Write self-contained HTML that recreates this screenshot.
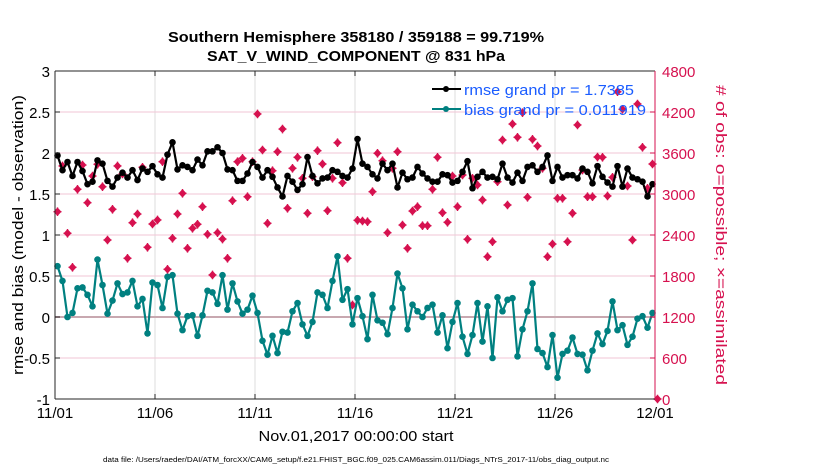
<!DOCTYPE html>
<html><head><meta charset="utf-8"><style>
html,body{margin:0;padding:0;background:#fff;}
svg{display:block;font-family:"Liberation Sans",sans-serif;}
</style></head><body>
<svg id="chart" width="830" height="470" viewBox="0 0 830 470">
<text x="356" y="42" text-anchor="middle" font-size="15" font-weight="bold" textLength="376" lengthAdjust="spacingAndGlyphs">Southern Hemisphere 358180 / 359188 = 99.719%</text>
<text x="356" y="61" text-anchor="middle" font-size="15" font-weight="bold" textLength="298" lengthAdjust="spacingAndGlyphs">SAT_V_WIND_COMPONENT @ 831 hPa</text>
<g id="grid"></g>
<g id="obs"></g>
<g id="rmse"></g>
<g id="bias"></g>
<g id="axes"></g>
<text transform="translate(23,235) rotate(-90)" text-anchor="middle" font-size="15" textLength="280" lengthAdjust="spacingAndGlyphs">rmse and bias (model - observation)</text>
<text transform="translate(716,235) rotate(90)" text-anchor="middle" font-size="15" fill="#d6114f" textLength="300" lengthAdjust="spacingAndGlyphs"># of obs: o=possible; ×=assimilated</text>
<text x="356" y="441" text-anchor="middle" font-size="15" textLength="195" lengthAdjust="spacingAndGlyphs">Nov.01,2017 00:00:00 start</text>
<text x="356" y="462" text-anchor="middle" font-size="7" textLength="506" lengthAdjust="spacingAndGlyphs">data file: /Users/raeder/DAI/ATM_forcXX/CAM6_setup/f.e21.FHIST_BGC.f09_025.CAM6assim.011/Diags_NTrS_2017-11/obs_diag_output.nc</text>
<g>
<line x1="432" y1="89" x2="461" y2="89" stroke="#000" stroke-width="2"/>
<circle cx="446" cy="89" r="3" fill="#000"/>
<text x="464" y="95" font-size="15" fill="#1a5cff" textLength="170" lengthAdjust="spacingAndGlyphs">rmse grand pr = 1.7385</text>
<line x1="432" y1="109" x2="461" y2="109" stroke="#008080" stroke-width="2"/>
<circle cx="446" cy="109" r="3" fill="#008080"/>
<text x="464" y="115" font-size="15" fill="#1a5cff" textLength="182" lengthAdjust="spacingAndGlyphs">bias grand pr = 0.011919</text>
</g>
</svg>
<script>
const rmseValues=[1.97,1.79,1.89,1.72,1.89,1.78,1.62,1.65,1.91,1.87,1.66,1.59,1.70,1.76,1.70,1.79,1.67,1.81,1.77,1.84,1.74,1.70,1.98,2.13,1.80,1.85,1.83,1.79,1.92,1.85,2.02,2.02,2.07,2.00,1.80,1.79,1.66,1.66,1.75,1.89,1.83,1.70,1.79,1.71,1.58,1.47,1.72,1.65,1.55,1.62,1.95,1.72,1.63,1.69,1.70,1.79,1.77,1.72,1.70,1.81,2.17,
1.87,1.83,1.74,1.69,1.87,1.79,1.87,1.58,1.76,1.68,1.70,1.83,1.75,1.69,1.65,1.65,1.74,1.73,1.64,1.66,1.77,1.90,1.57,1.71,1.77,1.70,1.71,1.68,1.87,1.70,1.64,1.76,1.66,1.83,1.85,1.77,1.83,1.97,1.66,1.83,1.70,1.73,1.73,1.69,1.81,1.77,1.63,1.84,1.71,1.64,1.59,1.84,1.59,1.81,1.70,1.68,1.65,1.47,1.62];
const biasValues=[0.62,0.44,0.00,0.05,0.35,0.36,0.27,0.13,0.70,0.39,0.04,0.20,0.41,0.28,0.30,0.44,0.13,0.22,-0.20,0.42,0.39,0.11,0.49,0.51,0.04,-0.16,0.01,0.02,-0.23,0.02,0.32,0.30,0.16,0.51,0.09,0.41,0.19,0.04,0.09,0.26,0.05,-0.29,-0.46,-0.23,-0.44,-0.18,-0.19,0.07,0.17,-0.09,-0.23,-0.06,0.30,0.27,0.11,0.44,0.74,0.21,0.34,-0.09,0.23,
0.01,-0.27,0.27,-0.04,-0.07,-0.21,0.11,0.53,0.35,-0.15,0.15,0.07,0.00,0.11,0.15,-0.19,0.02,-0.38,-0.06,0.17,-0.24,-0.45,-0.22,0.17,-0.30,0.13,-0.50,0.24,0.07,0.21,0.23,-0.48,-0.15,0.07,0.41,-0.39,-0.44,-0.61,-0.22,-0.74,-0.45,-0.41,-0.25,-0.45,-0.46,-0.65,-0.41,-0.20,-0.33,-0.17,0.19,-0.16,-0.10,-0.34,-0.24,-0.02,0.01,-0.13,0.05];
const obsCounts=[2741,3410,2425,1927,3069,3424,2873,3263,3435,3107,2327,2776,3410,3293,2059,2580,2707,3391,2220,2561,2620,3473,1898,2352,2707,3010,2205,2498,2557,2814,2410,1815,2434,2341,2059,2902,3473,3522,2960,3473,4171,3644,2571,3341,3619,3951,2791,3376,3537,3230,2718,3253,3634,3439,2756,3230,3751,3165,2059,1376,2615,2605,2595,3034,3596,3487,2434,3376,3619,2546,2205,2751,2814,2536,2536,3069,3537,2726,2586,3263,2814,3278,2337,3230,3132,2912,2082,2302,3180,3790,2839,4024,3830,4190,2952,3800,3702,3376,2082,2268,2937,2937,2302,2718,4010,3351,2960,2960,3541,3537,2971,3244,4497,4240,3117,2327,4317,3683,3083,3439,0];
const leftTicks=[-1,-0.5,0,0.5,1,1.5,2,2.5,3];
const leftTickLabels=["-1","-0.5","0","0.5","1","1.5","2","2.5","3"];
const rightTicks=[0,600,1200,1800,2400,3000,3600,4200,4800];
const xTickDays=[0,5,10,15,20,25,30];
const xTickLabels=["11/01","11/06","11/11","11/16","11/21","11/26","12/01"];

const X0=55,X1=655,Y0=71,Y1=399;
const xDay=d=>X0+(X1-X0)*d/30;
const xIdx=i=>xDay((i+0.5)/4);
const yL=v=>Y1-(v+1)/4*(Y1-Y0);
const yR=v=>Y1-v/4800*(Y1-Y0);
const NS="http://www.w3.org/2000/svg";
function mk(tag,attrs,parent){const e=document.createElementNS(NS,tag);for(const k in attrs)e.setAttribute(k,attrs[k]);parent.appendChild(e);return e;}
const grid=document.getElementById('grid'),axes=document.getElementById('axes');
mk('rect',{x:X0,y:Y0,width:X1-X0,height:Y1-Y0,fill:'#fff'},grid);
xTickDays.forEach((d,i)=>{
 const x=xDay(d);
 if(i>0&&i<xTickDays.length-1){const l=mk('line',{x1:x,y1:Y0,x2:x,y2:Y1,stroke:'#dcdcdc','stroke-width':1},grid);
 
 }
 mk('line',{x1:x,y1:Y1,x2:x,y2:Y1-5,stroke:'#262626'},axes);
 mk('line',{x1:x,y1:Y0,x2:x,y2:Y0+5,stroke:'#262626'},axes);
 const t=mk('text',{x:x,y:Y1+19,'text-anchor':'middle','font-size':15},axes);t.textContent=xTickLabels[i];
 
 
});
rightTicks.forEach((v,i)=>{
 const y=yR(v);
 if(i>0&&i<rightTicks.length-1){const l=mk('line',{x1:X0,y1:y,x2:X1,y2:y,stroke:'#f2c6d6',"stroke-width":1},grid);
 
 }
 mk('line',{x1:X1,y1:y,x2:X1-5,y2:y,stroke:'#d6114f'},axes);
 const t=mk('text',{x:X1+7,y:y+6,'font-size':15,fill:'#d6114f'},axes);t.textContent=String(v);
 
 
});
leftTicks.forEach((v,i)=>{
 const y=yL(v);
 mk('line',{x1:X0,y1:y,x2:X0+5,y2:y,stroke:'#262626'},axes);
 const t=mk('text',{x:X0-5,y:y+6,'text-anchor':'end','font-size':15},axes);t.textContent=leftTickLabels[i];
 
 
});
const zl=mk('line',{x1:X0,y1:yL(0),x2:X1,y2:yL(0),stroke:'#c8a8b0','stroke-width':2},grid);


mk('line',{x1:X0,y1:Y0,x2:X1,y2:Y0,stroke:'#262626'},axes);
mk('line',{x1:X0,y1:Y1,x2:X1,y2:Y1,stroke:'#262626'},axes);
mk('line',{x1:X0,y1:Y0,x2:X0,y2:Y1,stroke:'#262626'},axes);
mk('line',{x1:X1,y1:Y0,x2:X1,y2:Y1,stroke:'#d6114f'},axes);

const obsG=document.getElementById('obs');
obsCounts.forEach((v,i)=>{
 const x=xIdx(i),y=yR(v);
 const m=mk('path',{d:`M${x-3},${y}L${x},${y-3.3}L${x+3},${y}L${x},${y+3.3}Z M${x-4},${y}H${x+4} M${x},${y-4.3}V${y+4.3}`,fill:'#d6114f',stroke:'#d6114f','stroke-width':1.4},obsG);
 
 
});
function series(gid,vals,color){
 const g=document.getElementById(gid);
 const pl=mk('polyline',{points:vals.map((v,i)=>xIdx(i)+','+yL(v)).join(' '),fill:'none',stroke:color,'stroke-width':2.2,'stroke-linejoin':'round'},g);
 
 
 vals.forEach((v,i)=>{const c=mk('circle',{cx:xIdx(i),cy:yL(v),r:3.3,fill:color},g);
 
 });
}
series('rmse',rmseValues,'#000');
series('bias',biasValues,'#008080');
</script>
</body></html>
